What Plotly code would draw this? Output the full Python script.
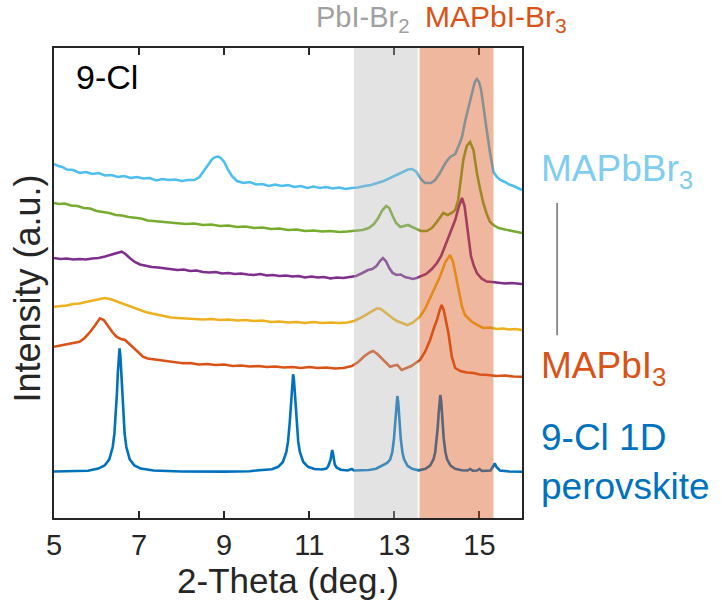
import plotly.graph_objects as go

# ---- data: 2-theta (deg.) vs stacked intensity (a.u.) ----
theta_range = [5, 16]
theta_ticks = [5, 7, 9, 11, 13, 15]

mapbbr3_pts = [
    (5.00, 354), (5.10, 352), (5.20, 351), (5.30, 348.5), (5.45, 348), (5.60, 345),
    (5.75, 346), (5.90, 344), (6.05, 345), (6.20, 342.5), (6.35, 343), (6.50, 341),
    (6.65, 342), (6.80, 340), (6.95, 341), (7.10, 339.5), (7.25, 340), (7.40, 337.5),
    (7.55, 339), (7.70, 338), (7.85, 338.5), (8.00, 337), (8.15, 338), (8.30, 338),
    (8.42, 341), (8.52, 347), (8.62, 354), (8.72, 359), (8.80, 361), (8.86, 361.5),
    (8.92, 360), (9.00, 356), (9.08, 349), (9.18, 342), (9.30, 337), (9.45, 335),
    (9.60, 336), (9.75, 333.5), (9.90, 334), (10.05, 332), (10.20, 333.5), (10.35, 332),
    (10.50, 333), (10.65, 331), (10.80, 332), (10.95, 330), (11.10, 331.5), (11.25, 330),
    (11.40, 331), (11.55, 329.5), (11.70, 330.5), (11.85, 329), (12.00, 330), (12.15, 330.5),
    (12.30, 332), (12.45, 333), (12.60, 335), (12.75, 337), (12.90, 340), (13.05, 343),
    (13.20, 346), (13.32, 348.5), (13.42, 349), (13.52, 346), (13.62, 339), (13.72, 335),
    (13.86, 335), (13.96, 338), (14.07, 345), (14.20, 355), (14.31, 361), (14.43, 364),
    (14.52, 373), (14.59, 381), (14.67, 398), (14.74, 411), (14.82, 426), (14.89, 436),
    (14.94, 439), (14.99, 436), (15.04, 428), (15.09, 411), (15.17, 388), (15.25, 365),
    (15.33, 346), (15.41, 341), (15.49, 338), (15.60, 336), (15.70, 333.5), (15.80, 332),
    (15.90, 330), (16.00, 328),
]

mix1_pts = [
    (5.00, 315), (5.12, 314), (5.25, 314.5), (5.40, 312.5), (5.55, 312), (5.70, 310),
    (5.85, 309.5), (6.00, 307), (6.15, 306), (6.30, 305), (6.45, 303), (6.60, 302.5),
    (6.75, 301), (6.90, 300), (7.05, 299.5), (7.20, 297.5), (7.35, 297), (7.50, 296),
    (7.70, 295.5), (7.90, 295), (8.10, 294), (8.30, 294.5), (8.50, 293), (8.70, 293.5),
    (8.90, 292), (9.10, 292.5), (9.30, 291), (9.50, 291.5), (9.70, 290), (9.90, 290.5),
    (10.10, 289), (10.30, 289.5), (10.50, 288), (10.70, 288.5), (10.90, 287), (11.10, 287.5),
    (11.30, 286.5), (11.50, 287), (11.70, 286), (11.90, 286.5), (12.10, 287), (12.25, 288),
    (12.40, 290), (12.52, 294), (12.62, 300), (12.72, 308), (12.81, 312), (12.88, 310),
    (12.96, 302), (13.04, 295), (13.14, 291), (13.24, 292), (13.32, 293), (13.42, 291),
    (13.52, 289), (13.62, 287), (13.76, 287), (13.88, 290), (13.98, 295), (14.08, 301),
    (14.15, 305), (14.25, 303), (14.35, 305), (14.43, 308), (14.50, 318), (14.56, 338),
    (14.62, 358), (14.70, 372), (14.78, 376), (14.86, 368), (14.94, 345), (15.02, 328),
    (15.09, 315), (15.17, 304), (15.25, 296), (15.33, 293), (15.45, 290), (15.60, 288.5),
    (15.75, 287), (15.90, 286), (16.00, 285),
]

mix2_pts = [
    (5.00, 260), (5.15, 259), (5.30, 259.5), (5.45, 258.5), (5.60, 259), (5.75, 258.5),
    (5.90, 259.5), (6.05, 260), (6.20, 261.5), (6.35, 263), (6.48, 265), (6.59, 266.3),
    (6.68, 264), (6.78, 260), (6.90, 256), (7.02, 253.5), (7.15, 252), (7.30, 251),
    (7.45, 250.5), (7.60, 249.5), (7.75, 249), (7.90, 248), (8.05, 248.5), (8.20, 247),
    (8.35, 247.5), (8.50, 246), (8.65, 245.5), (8.80, 246), (8.95, 244.5), (9.10, 245),
    (9.25, 244), (9.40, 244.5), (9.55, 243.5), (9.70, 243), (9.85, 244), (10.00, 242.5),
    (10.15, 243), (10.30, 242), (10.45, 242.5), (10.60, 241.5), (10.75, 242), (10.90, 240.5),
    (11.05, 241.5), (11.20, 240.5), (11.35, 241), (11.50, 239.5), (11.65, 240.5), (11.80, 240),
    (11.95, 241), (12.10, 242), (12.25, 245), (12.38, 248), (12.48, 249), (12.58, 252),
    (12.66, 257), (12.73, 260), (12.80, 257), (12.88, 250), (12.96, 245), (13.05, 243),
    (13.15, 243.5), (13.25, 241), (13.35, 240), (13.44, 239), (13.52, 240), (13.62, 241.5),
    (13.75, 244), (13.88, 249), (14.00, 255), (14.10, 262), (14.23, 277), (14.33, 288),
    (14.43, 298), (14.52, 312), (14.59, 320), (14.65, 312), (14.70, 295), (14.74, 278),
    (14.80, 262), (14.87, 252), (14.94, 245), (15.05, 239.5), (15.17, 236.5), (15.30, 236),
    (15.45, 235.5), (15.60, 234.5), (15.75, 235), (15.90, 234), (16.00, 234),
]

mix3_pts = [
    (5.00, 211.3), (5.15, 212), (5.30, 212.5), (5.45, 214), (5.60, 214.5), (5.75, 216),
    (5.90, 217.5), (6.05, 219), (6.19, 220), (6.32, 219), (6.45, 217), (6.60, 215),
    (6.75, 212.5), (6.90, 210), (7.02, 208), (7.15, 206), (7.30, 204.5), (7.45, 203),
    (7.60, 202), (7.75, 200.5), (7.90, 200), (8.10, 199.5), (8.30, 199), (8.50, 198.5),
    (8.70, 199), (8.90, 198), (9.10, 198.5), (9.30, 197.5), (9.50, 198), (9.70, 197),
    (9.90, 197.5), (10.10, 196), (10.30, 196.5), (10.50, 195.5), (10.70, 196), (10.90, 195),
    (11.10, 196), (11.30, 195), (11.50, 195.5), (11.70, 195), (11.90, 195.5), (12.05, 197),
    (12.20, 200), (12.35, 204), (12.48, 207.5), (12.59, 209.7), (12.68, 209), (12.78, 205.5),
    (12.88, 202), (12.96, 199.7), (13.06, 197), (13.18, 195), (13.30, 193), (13.42, 195),
    (13.52, 198), (13.60, 201.3), (13.72, 209), (13.84, 220), (13.96, 231), (14.07, 241.3),
    (14.20, 256), (14.31, 263), (14.38, 256), (14.46, 238), (14.53, 223), (14.59, 211.3),
    (14.66, 203), (14.80, 197), (14.95, 193), (15.09, 190), (15.25, 190.5), (15.40, 189),
    (15.55, 189.5), (15.70, 188.5), (15.85, 189), (16.00, 188),
]

mapbi3_pts = [
    (5.00, 171.3), (5.15, 172.5), (5.30, 174), (5.45, 175), (5.60, 176.3), (5.72, 180),
    (5.85, 186), (5.97, 193), (6.08, 199.7), (6.17, 198), (6.27, 192), (6.37, 186),
    (6.47, 181.3), (6.57, 179), (6.67, 178), (6.78, 174), (6.90, 169), (7.00, 165),
    (7.09, 161.3), (7.20, 159.5), (7.35, 158.5), (7.50, 158), (7.65, 156.5), (7.80, 156),
    (8.03, 154.7), (8.20, 155), (8.40, 153.5), (8.60, 154), (8.80, 153), (9.00, 153.5),
    (9.20, 152), (9.40, 152.5), (9.60, 151.5), (9.80, 152), (10.00, 151), (10.20, 151.5),
    (10.40, 150.5), (10.60, 151), (10.80, 150), (11.00, 151), (11.20, 150), (11.40, 150.5),
    (11.60, 149.5), (11.80, 150), (12.00, 152), (12.15, 156), (12.30, 162), (12.42, 165.5),
    (12.50, 167), (12.60, 164), (12.70, 160), (12.80, 155), (12.90, 151.3), (13.00, 152.5),
    (13.07, 153), (13.17, 148), (13.28, 150), (13.40, 152), (13.50, 155), (13.60, 158),
    (13.72, 166), (13.84, 178), (13.93, 190), (14.00, 198), (14.06, 207), (14.11, 213),
    (14.16, 208), (14.22, 195), (14.27, 185), (14.35, 161.3), (14.43, 150), (14.55, 147),
    (14.70, 145.5), (14.86, 145), (15.00, 143.5), (15.20, 143), (15.40, 142), (15.60, 142.5),
    (15.80, 141.5), (16.00, 141.3),
]

cl1d_pts = [
    (5.00, 46.5), (5.50, 46.8), (5.80, 47.3), (6.04, 49.4), (6.19, 52.5), (6.30, 58.6),
    (6.38, 71.0), (6.42, 84.3), (6.46, 108.0), (6.48, 125.3), (6.50, 145.0), (6.52, 162.4),
    (6.54, 169.7), (6.56, 162.4), (6.58, 145.0), (6.60, 125.3), (6.62, 108.0), (6.66, 84.3),
    (6.70, 71.0), (6.78, 58.6), (6.89, 52.5), (7.04, 49.4), (7.34, 47.5), (8.00, 46.5),
    (9.00, 46.4), (9.60, 46.8), (9.82, 47.8), (10.12, 48.7), (10.27, 51.2), (10.38, 56.0),
    (10.46, 65.8), (10.50, 76.3), (10.54, 95.0), (10.56, 108.6), (10.58, 124.2), (10.60, 138.0),
    (10.62, 143.7), (10.64, 138.0), (10.66, 124.2), (10.68, 108.6), (10.70, 95.0), (10.74, 76.3),
    (10.78, 65.8), (10.86, 56.0), (10.97, 51.2), (11.12, 49.0), (11.30, 48.5), (11.40, 49.5),
    (11.44, 51.5), (11.48, 55.5), (11.50, 58.0), (11.52, 63.7), (11.54, 68.0), (11.56, 63.7),
    (11.58, 57.5), (11.60, 53.5), (11.64, 50.5), (11.74, 48.3), (11.90, 47.5), (12.00, 49.0),
    (12.05, 47.5), (12.40, 48.0), (12.57, 49.3), (12.72, 52.2), (12.83, 55.0), (12.90, 58.5),
    (12.95, 65.5), (12.99, 79.2), (13.01, 89.9), (13.03, 103.4), (13.05, 116.3), (13.07, 122.0),
    (13.09, 116.3), (13.11, 103.4), (13.13, 89.9), (13.15, 79.2), (13.19, 65.5), (13.23, 58.5),
    (13.31, 52.2), (13.42, 49.2), (13.57, 47.7), (13.73, 49.2), (13.84, 52.3), (13.92, 58.6),
    (13.96, 65.8), (14.00, 79.6), (14.02, 90.5), (14.04, 104.1), (14.06, 117.2), (14.08, 123.0),
    (14.10, 117.2), (14.12, 104.1), (14.14, 90.5), (14.16, 79.6), (14.20, 65.8), (14.24, 58.6),
    (14.32, 52.3), (14.43, 49.2), (14.58, 47.8), (14.72, 47.5), (14.78, 49.0), (14.84, 47.3),
    (14.94, 47.5), (15.00, 49.0), (15.06, 47.0), (15.26, 47.5), (15.32, 51.5), (15.36, 54.7),
    (15.40, 51.0), (15.48, 47.5), (15.70, 46.5), (16.00, 46.3),
]

series_names = ["MAPbBr3", "Br-rich mix", "Mid mix", "I-rich mix", "MAPbI3", "9-Cl 1D perovskite"]
series_points = [mapbbr3_pts, mix1_pts, mix2_pts, mix3_pts, mapbi3_pts, cl1d_pts]
series_colors = ["#4DBEEE", "#77AC30", "#7E2F8E", "#EDB120", "#D95319", "#0072BD"]

# highlighted 2-theta windows
pbibr2_window = [12.05, 13.55]
mapbibr3_window = [13.59, 15.33]

FONT = "Liberation Sans, Arial, Helvetica, sans-serif"
AXIS_COLOR = "#262626"

fig = go.Figure()
for name, pts, color in zip(series_names, series_points, series_colors):
    xs, ys = zip(*pts)
    fig.add_trace(go.Scatter(
        x=list(xs), y=list(ys), mode="lines", name=name,
        line=dict(color=color, width=2.6), showlegend=False,
    ))

# translucent bands drawn over the patterns
fig.add_shape(type="rect", xref="x", yref="paper",
              x0=pbibr2_window[0], x1=pbibr2_window[1], y0=0, y1=1,
              fillcolor="rgba(180,180,180,0.37)", line=dict(width=0), layer="above")
fig.add_shape(type="rect", xref="x", yref="paper",
              x0=mapbibr3_window[0], x1=mapbibr3_window[1], y0=0, y1=1,
              fillcolor="rgba(217,83,25,0.42)", line=dict(width=0), layer="above")

# bracket between the two end-member labels
fig.add_shape(type="line", xref="paper", yref="paper",
              x0=1.075, x1=1.075, y0=0.389, y1=0.670,
              line=dict(color="#6e6e6e", width=1.5))

annotations = [
    dict(text="9-Cl", x=0.043, y=0.938, xanchor="left", yanchor="middle",
         font=dict(size=34, color="black")),
    dict(text="PbI-Br<sub>2</sub>", x=0.763, y=1.02, xanchor="right", yanchor="bottom",
         font=dict(size=29, color="#a0a0a0")),
    dict(text="MAPbI-Br<sub>3</sub>", x=0.788, y=1.02, xanchor="left", yanchor="bottom",
         font=dict(size=30, color="#D95319")),
    dict(text="MAPbBr<sub>3</sub>", x=1.036, y=0.738, xanchor="left", yanchor="middle",
         font=dict(size=37, color="#80CDEF")),
    dict(text="MAPbI<sub>3</sub>", x=1.036, y=0.320, xanchor="left", yanchor="middle",
         font=dict(size=37, color="#D95319")),
    dict(text="9-Cl 1D", x=1.036, y=0.171, xanchor="left", yanchor="middle",
         font=dict(size=37, color="#0072BD")),
    dict(text="perovskite", x=1.036, y=0.066, xanchor="left", yanchor="middle",
         font=dict(size=37, color="#0072BD")),
    dict(text="Intensity (a.u.)", x=-0.057, y=0.489, xanchor="center", yanchor="middle",
         textangle=-90, font=dict(size=36, color=AXIS_COLOR)),
]
for a in annotations:
    a.update(xref="paper", yref="paper", showarrow=False)

fig.update_layout(
    width=722, height=605,
    margin=dict(l=54, r=200, t=48, b=87),
    paper_bgcolor="white", plot_bgcolor="white",
    font=dict(family=FONT, color=AXIS_COLOR),
    annotations=annotations,
    xaxis=dict(
        range=theta_range, tickvals=theta_ticks,
        ticks="inside", ticklen=7, tickwidth=1.6, tickcolor=AXIS_COLOR,
        showline=True, linecolor=AXIS_COLOR, linewidth=2, mirror="ticks",
        showgrid=False, zeroline=False,
        tickfont=dict(size=29, color=AXIS_COLOR),
        title=dict(text="2-Theta (deg.)", font=dict(size=35, color=AXIS_COLOR), standoff=4),
    ),
    yaxis=dict(
        range=[0, 470], showticklabels=False, ticks="",
        showline=True, linecolor=AXIS_COLOR, linewidth=2, mirror=True,
        showgrid=False, zeroline=False,
    ),
)

fig.write_html("out.html")
